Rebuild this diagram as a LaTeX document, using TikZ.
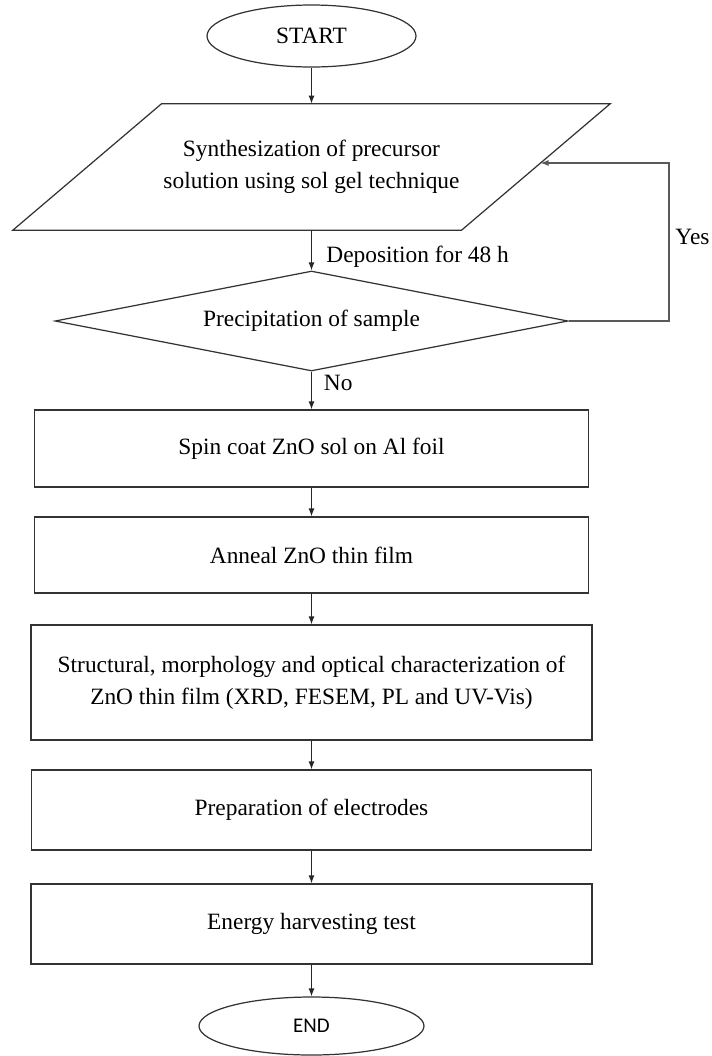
\documentclass[tikz,border=0pt]{standalone}
\usepackage{fontspec}
\setmainfont{Liberation Serif}
\newfontfamily\calibri{Carlito}
\usetikzlibrary{arrows.meta,positioning,shapes.geometric}

\begin{document}
\begin{tikzpicture}[
      font=\fontsize{13.3}{18.1}\selectfont,
      term/.style={draw=black!80,ellipse,line width=0.7pt,inner sep=0pt,
                   minimum width=4.18cm,minimum height=1.24cm},
      io/.style={rectangle,minimum width=8.96cm,minimum height=2.52cm,
                 align=center},
      ioline/.style={draw=black!80,line width=0.7pt},
      decide/.style={draw=black!80,diamond,aspect=5.13,inner sep=0pt,
                     minimum width=10.26cm,minimum height=2.0cm,line width=0.7pt},
      proc/.style={draw=black!80,rectangle,minimum width=11.08cm,
                   minimum height=1.54cm,align=center,line width=0.7pt},
      arr/.style={-{Latex[length=4.5pt,width=3.4pt]},line width=0.7pt,black!85},
      lbl/.style={font=\fontsize{13.3}{18.1}\selectfont,text=black},
    ]

    \useasboundingbox (0,0) rectangle (14.24,-21.12);

    % ── Start and sol preparation ─────────────────────────────────────────
    \node[term] (start) at (6.23,-0.72) {START};
    \node[io]   (synth) at (6.23,-3.34)
          {Synthesization of precursor\\solution using sol gel technique};
    \draw[ioline] ([xshift=-1.49cm]synth.south west) -- ([xshift=-1.49cm]synth.south east)
          -- ([xshift=1.49cm]synth.north east) -- ([xshift=1.49cm]synth.north west) -- cycle;

    % ── Decision ───────────────────────────────────────────────────────────
    \node[decide] (prec) at (6.23,-6.42) {Precipitation of sample};

    % ── Film steps ─────────────────────────────────────────────────────────
    \node[proc] (spin)   at (6.23,-8.97)  {Spin coat ZnO sol on Al foil};
    \node[proc,minimum height=1.52cm] (anneal) at (6.23,-11.10) {Anneal ZnO thin film};
    \node[proc,minimum width=11.22cm,minimum height=2.30cm] (charac) at (6.23,-13.65)
          {Structural, morphology and optical characterization of\\
           ZnO thin film (XRD, FESEM, PL and UV-Vis)};
    \node[proc,minimum width=11.20cm,minimum height=1.60cm] (elec) at (6.23,-16.20)
          {Preparation of electrodes};
    \node[proc,minimum width=11.22cm,minimum height=1.60cm] (harvest) at (6.23,-18.48)
          {Energy harvesting test};
    \node[term,minimum width=4.50cm,minimum height=1.16cm,
          font=\calibri\fontsize{11.9}{14}\selectfont] (stop) at (6.23,-20.52) {END};

    % ── Main flow ──────────────────────────────────────────────────────────
    \draw[arr] (start) -- (synth);
    \draw[arr] (synth) -- node[lbl,right,xshift=0.17cm,yshift=-0.13cm]
          {Deposition for 48 h} (prec);
    \draw[arr] (prec) -- node[lbl,right,xshift=0.12cm,yshift=0.15cm] {No} (spin);
    \draw[arr] (spin)    -- (anneal);
    \draw[arr] (anneal)  -- (charac);
    \draw[arr] (charac)  -- (elec);
    \draw[arr] (elec)    -- (harvest);
    \draw[arr] (harvest) -- (stop);

    % ── Yes loop back to synthesis ────────────────────────────────────────
    \coordinate (turn) at (13.38,-6.42);
    \draw[arr,black!65] (prec.east) -- (turn)
          |- node[lbl,pos=0.25,right,yshift=0.1cm] {Yes}
          ([xshift=0.095cm,yshift=0.08cm]synth.east);

  \end{tikzpicture}
\end{document}
